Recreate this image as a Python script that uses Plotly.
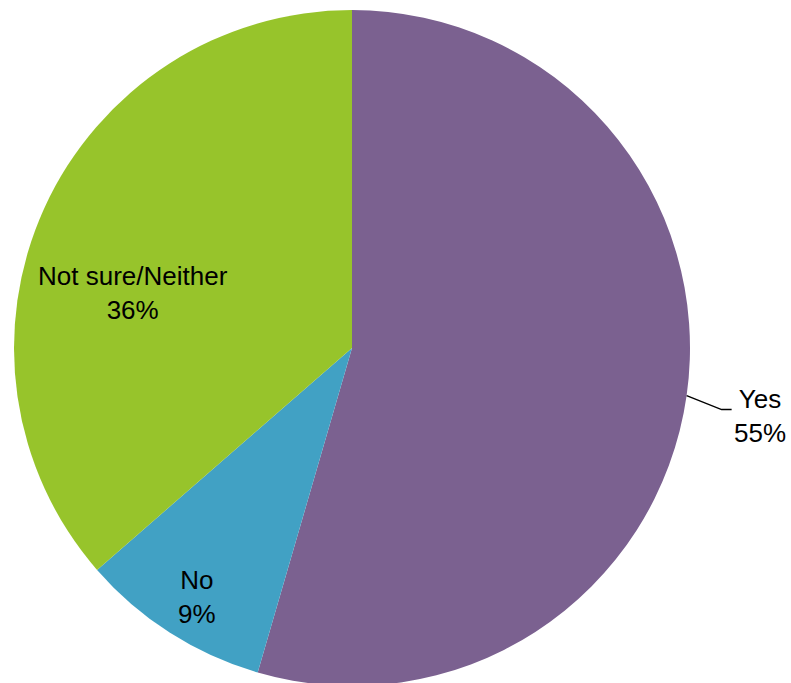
import math
import plotly.graph_objects as go

labels = ["Yes", "No", "Not sure/Neither"]
values = [54.5, 9.1, 36.4]
colors = ["#7B6190", "#41A1C4", "#97C42B"]

# figure geometry (pixels)
W, H = 791, 686
M_T, M_B = 10, 0
PLOT_H = H - M_T - M_B
CX = 352                     # pie centre (px)
R = PLOT_H / 2               # pie radius (px)
CY = M_T + R

fig = go.Figure(go.Pie(
    labels=labels,
    values=values,
    sort=False,
    direction="clockwise",
    rotation=0,
    marker=dict(colors=colors, line=dict(width=0)),
    textinfo="none",
    domain=dict(x=[0, 2 * CX / W], y=[0, 1]),
    showlegend=False,
    hoverinfo="label+percent",
))

def to_paper(px, py):
    return px / W, 1 - (py - M_T) / PLOT_H

# label placement: (radius fraction along slice mid-angle, x shift, y shift)
label_style = {
    "Yes": None,
    "No": (0.87, 3, 1),
    "Not sure/Neither": (0.67, -13, 39),
}
font = dict(family="Liberation Sans, Arial, sans-serif", size=26, color="#000000")
total = sum(values)
cum = 0
annotations, shapes = [], []
for lab, v in zip(labels, values):
    mid = (cum + v / 2) / total * 2 * math.pi
    cum += v
    pct = f"{int(v / total * 100 + 0.5)}%"
    txt = f"{lab}<br>{pct}"
    sx, sy = math.sin(mid), -math.cos(mid)
    if label_style[lab] is None:
        ex, ey = CX + R * sx, CY + R * sy
        bx, by = ex + 35, ey + 14
        fx, fy = bx + 10, by
        p0, p1, p2 = to_paper(ex, ey), to_paper(bx, by), to_paper(fx, fy)
        shapes.append(dict(type="path", xref="paper", yref="paper",
                           path=f"M {p0[0]} {p0[1]} L {p1[0]} {p1[1]} L {p2[0]} {p2[1]}",
                           line=dict(color="black", width=1.5)))
        tx, ty = to_paper(fx + 28, fy + 6)
        annotations.append(dict(x=tx, y=ty, xref="paper", yref="paper", text=txt,
                                showarrow=False, xanchor="center", yanchor="middle",
                                align="center", font=font))
    else:
        f, dx, dy = label_style[lab]
        px, py = CX + f * R * sx + dx, CY + f * R * sy + dy
        tx, ty = to_paper(px, py)
        annotations.append(dict(x=tx, y=ty, xref="paper", yref="paper", text=txt,
                                showarrow=False, xanchor="center", yanchor="middle",
                                align="center", font=font))

fig.update_layout(
    width=W, height=H,
    margin=dict(l=0, r=0, t=M_T, b=M_B),
    paper_bgcolor="white",
    plot_bgcolor="white",
    annotations=annotations,
    shapes=shapes,
)

fig.write_html(
    "out.html",
    config={"displayModeBar": False},
    post_script="document.body.style.margin='0';document.body.style.overflow='hidden';",
)
